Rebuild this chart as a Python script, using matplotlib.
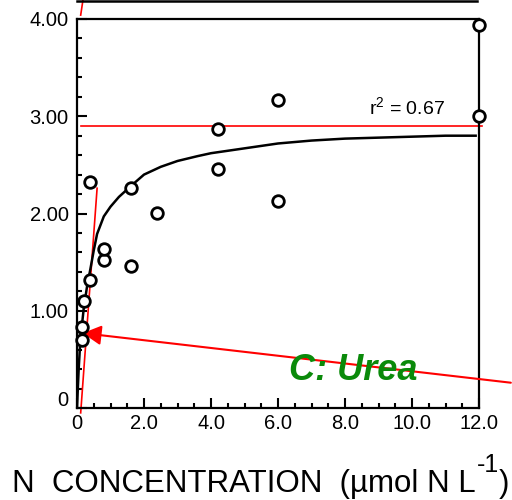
import matplotlib.pyplot as plt
from matplotlib.lines import Line2D
from matplotlib.ticker import MultipleLocator
from matplotlib.transforms import ScaledTranslation

plt.rcParams['font.family'] = ['Liberation Sans', 'DejaVu Sans']
plt.rcParams['mathtext.fontset'] = 'custom'
plt.rcParams['mathtext.rm'] = 'Liberation Sans'
plt.rcParams['mathtext.it'] = 'Liberation Sans:italic'

# measured uptake points
conc = [0.15, 0.15, 0.2, 0.4, 0.4, 0.8, 0.8, 1.6, 1.6, 2.4, 4.2, 4.2, 6.0, 6.0, 12.0, 12.0]
rate = [0.70, 0.83, 1.10, 1.32, 2.32, 1.52, 1.63, 1.46, 2.26, 2.01, 2.46, 2.87, 2.13, 3.17, 3.00, 3.94]

# fitted curve
fit_x = [0, 0.05, 0.1, 0.2, 0.3, 0.4, 0.5, 0.6, 0.8, 1.0, 1.25, 1.6, 2.0, 2.5,
         3.0, 3.6, 4.0, 5.0, 6.0, 7.0, 8.0, 9.0, 10.0, 11.0, 11.9]
fit_y = [0, 0.40, 0.70, 1.02, 1.25, 1.43, 1.62, 1.79, 1.97, 2.07, 2.17, 2.28, 2.40, 2.48,
         2.54, 2.59, 2.62, 2.67, 2.72, 2.75, 2.77, 2.78, 2.79, 2.80, 2.80]

vmax = 2.90
slope_x = [0.11, 0.60]
slope_y = [-0.05, 2.26]
top_x = [0.11, 0.18]
top_y = [4.04, 4.20]
arrow_tip = (0.17, 0.77)
arrow_tail = (12.95, 0.26)

xticks = [0, 2, 4, 6, 8, 10, 12]
xticklabels = ['0', '2.0', '4.0', '6.0', '8.0', '10.0', '12.0']
yticks = [0, 1, 2, 3, 4]
yticklabels = ['0', '1.00', '2.00', '3.00', '4.00']

fig = plt.figure(figsize=(5.12, 5.0), dpi=100)
ax = fig.add_axes([77 / 512, 1 - 408 / 500, 402 / 512, 389 / 500])

ax.plot(fit_x, fit_y, color='black', lw=1.8, zorder=3)
ax.plot([0.12, 12.1], [vmax, vmax], color='red', lw=1.2, clip_on=False, zorder=2)
ax.plot(slope_x, slope_y, color='red', lw=1.2, clip_on=False, zorder=2)
ax.plot(top_x, top_y, color='red', lw=1.2, clip_on=False, zorder=2)
ax.scatter(conc, rate, s=70, facecolor='white', edgecolor='black', linewidth=2,
           zorder=5, clip_on=False)

ax.annotate('', xy=arrow_tip, xytext=arrow_tail, annotation_clip=False,
            arrowprops=dict(arrowstyle='-|>,head_length=0.75,head_width=0.4',
                            color='red', lw=1.5, mutation_scale=15,
                            shrinkA=0, shrinkB=0))

ax.text(10.98, 3.02, 'r$^2$ = 0.67', fontsize=14, ha='right', va='baseline')
ax.text(6.33, 0.29, 'C: Urea', fontsize=26, color='#0a8a0a', fontweight='bold',
        fontstyle='italic', ha='left', va='baseline')

ax.set_xlim(0, 12)
ax.set_ylim(0, 4)
ax.set_xticks(xticks)
ax.set_xticklabels(xticklabels)
ax.set_yticks(yticks)
ax.set_yticklabels(yticklabels)
ax.xaxis.set_minor_locator(MultipleLocator(0.5))
ax.yaxis.set_minor_locator(MultipleLocator(0.2))
ax.tick_params(which='both', direction='in', width=1.5, labelsize=14.5,
               top=False, right=False)
ax.tick_params(which='major', length=7)
ax.tick_params(which='minor', length=3.5)
ax.tick_params(axis='x', pad=4)
ax.tick_params(axis='y', pad=6)
for s in ax.spines.values():
    s.set_linewidth(1.6)

# the "0" on the y axis sits a little higher than the tick
lbl = ax.get_yticklabels()[0]
lbl.set_transform(lbl.get_transform() + ScaledTranslation(0, 0.09, fig.dpi_scale_trans))

# bottom edge of the panel above
fig.add_artist(Line2D([77 / 512, 477 / 512], [0.998, 0.998], color='black', lw=1.8))

# x label with a raised, fairly large superscript
base_y = 1 - 492 / 500
main = fig.text(12 / 512, base_y, 'N  CONCENTRATION  (µmol N L',
                fontsize=22.5, ha='left', va='baseline')
renderer = fig.canvas.get_renderer()
x1 = fig.transFigure.inverted().transform(main.get_window_extent(renderer))[1][0]
sup = fig.text(x1 + 1 / 512, 1 - 472 / 500, '-1', fontsize=18, ha='left', va='baseline')
x2 = fig.transFigure.inverted().transform(sup.get_window_extent(renderer))[1][0]
fig.text(x2, base_y, ')', fontsize=22.5, ha='left', va='baseline')

fig.savefig('out.png', dpi=100)
